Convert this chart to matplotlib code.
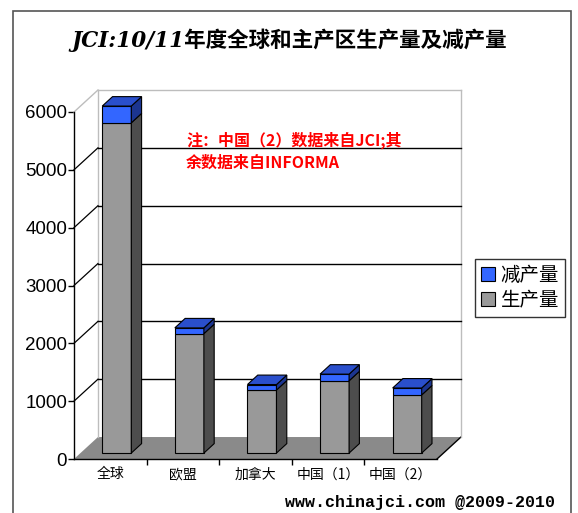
import matplotlib
matplotlib.use("Agg")
import matplotlib.pyplot as plt
from matplotlib.patches import Polygon, Rectangle, Patch
import numpy as np

# ---- data ----
categories = ["全球", "欧盟", "加拿大", "中国（1）", "中国（2）"]
production = [5710, 2065, 1090, 1250, 1005]   # 生产量
reduction = [290, 100, 95, 115, 120]           # 减产量
series_names = ["减产量", "生产量"]
y_ticks = [0, 1000, 2000, 3000, 4000, 5000, 6000]
title = "JCI:10/11年度全球和主产区生产量及减产量"
note_lines = ["注：中国（2）数据来自JCI;其", "余数据来自INFORMA"]
credit = "www.chinajci.com @2009-2010"

plt.rcParams['font.family'] = ['Noto Sans CJK SC', 'DejaVu Sans']

W, H = 578, 513
fig = plt.figure(figsize=(W / 100, H / 100), dpi=100)
fig.patch.set_facecolor("white")

# front plane of the pseudo-3D box
ax = fig.add_axes([74 / W, (H - 459) / H, (437 - 74) / W, (459 - 112) / H])
n = len(categories)
ymax = y_ticks[-1]
ax.set_xlim(0, n)
ax.set_ylim(0, ymax)
ax.patch.set_visible(False)
for s in ("top", "right"):
    ax.spines[s].set_visible(False)
for s in ("left", "bottom"):
    ax.spines[s].set_color("black")
    ax.spines[s].set_linewidth(1.0)
    ax.spines[s].set_zorder(6)

# oblique depth vector (data units)
DX, DY = 0.33, 380.0
wall_col = "#bdbdbd"

# floor
ax.add_patch(Polygon([(0, 0), (n, 0), (n + DX, DY), (DX, DY)], closed=True,
                     facecolor="#8a8a8a", edgecolor="none", zorder=1, clip_on=False))
ax.plot([n, n + DX], [0, DY], color="black", lw=1.0, zorder=2, clip_on=False)

# back wall outline
ax.plot([DX, DX], [DY, ymax + DY], color=wall_col, lw=1.0, zorder=2, clip_on=False)
ax.plot([n + DX, n + DX], [DY, ymax + DY], color=wall_col, lw=1.0, zorder=2, clip_on=False)
ax.plot([DX, n + DX], [ymax + DY, ymax + DY], color=wall_col, lw=1.0, zorder=2, clip_on=False)
ax.plot([0, DX], [ymax, ymax + DY], color=wall_col, lw=1.0, zorder=2, clip_on=False)

# gridlines on side wall and back wall
for v in y_ticks[1:-1]:
    ax.plot([DX, n + DX], [v + DY, v + DY], color="black", lw=1.0, zorder=2, clip_on=False)
    ax.plot([0, DX], [v, v + DY], color="black", lw=0.9, zorder=2, clip_on=False)

# bars
f0, fd, bw = 0.27, 0.43, 0.40
ddx, ddy = fd * DX, fd * DY
xc = np.arange(n) + 0.5 + f0 * DX
base = f0 * DY
prod = np.array(production, dtype=float)
red = np.array(reduction, dtype=float)

gray_front, gray_side = "#999999", "#4d4d4d"
blue_front, blue_side, blue_top = "#3366ff", "#1c3590", "#2a4fcc"

ax.bar(xc, prod, width=bw, bottom=base, color=gray_front, edgecolor="black",
       linewidth=0.8, zorder=4, clip_on=False)
ax.bar(xc, red, width=bw, bottom=base + prod, color=blue_front, edgecolor="black",
       linewidth=0.8, zorder=4, clip_on=False)

for i in range(n):
    xl, xr = xc[i] - bw / 2, xc[i] + bw / 2
    segs = [(base, base + prod[i], gray_side),
            (base + prod[i], base + prod[i] + red[i], blue_side)]
    for b, t, c in segs:
        ax.add_patch(Polygon([(xr, b), (xr + ddx, b + ddy), (xr + ddx, t + ddy), (xr, t)],
                             closed=True, facecolor=c, edgecolor="black", lw=0.8,
                             zorder=4, clip_on=False))
    T = base + prod[i] + red[i]
    ax.add_patch(Polygon([(xl, T), (xr, T), (xr + ddx, T + ddy), (xl + ddx, T + ddy)],
                         closed=True, facecolor=blue_top, edgecolor="black", lw=0.8,
                         zorder=4, clip_on=False))

# axes ticks and labels
ax.set_yticks(y_ticks)
ax.set_yticklabels([str(v) for v in y_ticks], family="Liberation Sans", fontsize=13.5)
ax.tick_params(axis="y", direction="out", length=4, width=1, pad=1, colors="black")
ax.set_xticks(np.arange(1, n))
ax.set_xticklabels([])
ax.tick_params(axis="x", which="major", direction="out", length=4, width=1)
ax.set_xticks(np.arange(n) + 0.5, minor=True)
ax.set_xticklabels(categories, minor=True, fontsize=10)
ax.tick_params(axis="x", which="minor", length=0, pad=6)

# title
fig.text(289 / W, 1 - 40 / H, title, ha="center", va="center", fontsize=15.5,
         family=["DejaVu Serif", "Noto Sans CJK SC"], style="italic", weight="bold")

# red note
for k, line in enumerate(note_lines):
    fig.text(186 / W, 1 - (140 + 23 * k) / H, line, ha="left", va="center",
             fontsize=11.5, color="#ff0000", weight="bold")

# legend
handles = [Patch(facecolor=blue_front, edgecolor="black", lw=0.8),
           Patch(facecolor=gray_front, edgecolor="black", lw=0.8)]
leg = fig.legend(handles, series_names, loc="center",
                 bbox_to_anchor=(520 / W, 1 - 288 / H), frameon=True, fancybox=False,
                 fontsize=14, handlelength=0.7, handleheight=0.7, handletextpad=0.3,
                 borderpad=0.3, labelspacing=0.2, borderaxespad=0)
leg.get_frame().set_edgecolor("black")
leg.get_frame().set_linewidth(1.0)

# credit line
fig.text(555 / W, 1 - 502 / H, credit, ha="right", va="center",
         family="Liberation Mono", weight="bold", fontsize=12)

# outer frame
fig.add_artist(Rectangle((13 / W, -0.05), (571 - 13) / W, 1 - 11 / H + 0.05,
                         transform=fig.transFigure, fill=False,
                         edgecolor="#555555", lw=1.2))

fig.savefig("out.png", dpi=100)
